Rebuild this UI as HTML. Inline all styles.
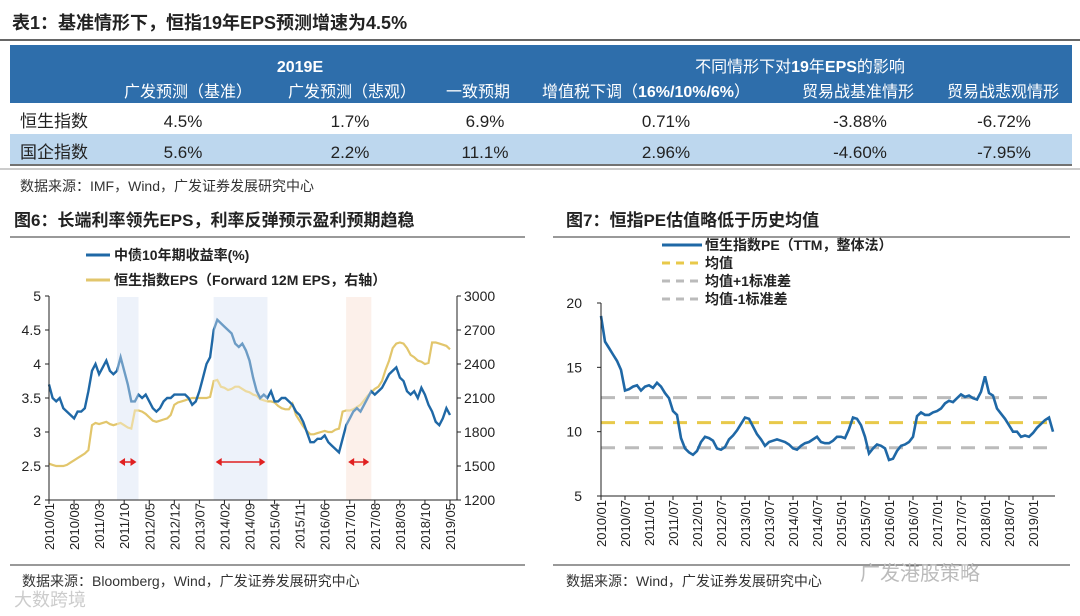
<!DOCTYPE html>
<html><head><meta charset="utf-8"><style>
body{margin:0;background:#fff;}
svg{display:block;font-family:"Liberation Sans","Noto Sans CJK SC",sans-serif;}
</style></head><body>
<svg id="s" width="1080" height="616" viewBox="0 0 1080 616" xmlns="http://www.w3.org/2000/svg">
<g>
<text x="12" y="29" font-size="18" font-weight="bold" fill="#222">表1：基准情形下，恒指19年EPS预测增速为4.5%</text>
<line x1="0" y1="40" x2="1080" y2="40" stroke="#333" stroke-width="1.5"/>
<rect x="10" y="45" width="1062" height="58" fill="#2e6eab"/>
<rect x="10" y="134" width="1062" height="30" fill="#bdd7ee"/>
<line x1="10" y1="165" x2="1072" y2="165" stroke="#444" stroke-width="1.5"/>
<line x1="0" y1="169" x2="1080" y2="169" stroke="#999" stroke-width="1"/>
<g fill="#fff" font-size="16" text-anchor="middle">
<text x="300" y="72" font-weight="bold">2019E</text>
<text x="800" y="72">不同情形下对<tspan font-weight="bold">19</tspan>年<tspan font-weight="bold">EPS</tspan>的影响</text>
<text x="188" y="97">广发预测（基准）</text>
<text x="352" y="97">广发预测（悲观）</text>
<text x="478" y="97">一致预期</text>
<text x="646" y="97">增值税下调（<tspan font-weight="bold">16%/10%/6%</tspan>）</text>
<text x="858" y="97">贸易战基准情形</text>
<text x="1003" y="97">贸易战悲观情形</text>
</g>
<g fill="#222" font-size="17" text-anchor="middle">
<text x="20" y="127" text-anchor="start">恒生指数</text>
<text x="183" y="127">4.5%</text><text x="350" y="127">1.7%</text><text x="485" y="127">6.9%</text>
<text x="666" y="127">0.71%</text><text x="860" y="127">-3.88%</text><text x="1004" y="127">-6.72%</text>
<text x="20" y="158" text-anchor="start">国企指数</text>
<text x="183" y="158">5.6%</text><text x="350" y="158">2.2%</text><text x="485" y="158">11.1%</text>
<text x="666" y="158">2.96%</text><text x="860" y="158">-4.60%</text><text x="1004" y="158">-7.95%</text>
</g>
<text x="20" y="191" font-size="14" fill="#333">数据来源：IMF，Wind，广发证券发展研究中心</text>
</g>
<text x="14" y="226" font-size="17" font-weight="bold" fill="#222">图6：长端利率领先EPS，利率反弹预示盈利预期趋稳</text>
<text x="566" y="226" font-size="17" font-weight="bold" fill="#222">图7：恒指PE估值略低于历史均值</text>
<line x1="10" y1="237" x2="525" y2="237" stroke="#333"/>
<line x1="553" y1="237" x2="1070" y2="237" stroke="#333"/>
<line x1="10" y1="565" x2="525" y2="565" stroke="#333"/>
<line x1="553" y1="565" x2="1070" y2="565" stroke="#333"/>
<text x="22" y="586" font-size="14" fill="#333">数据来源：Bloomberg，Wind，广发证券发展研究中心</text>
<text x="566" y="586" font-size="14" fill="#333">数据来源：Wind，广发证券发展研究中心</text>
<text x="860" y="580" font-size="20" fill="#bbb">广发港股策略</text>
<text x="14" y="606" font-size="18" fill="#ccc">大数跨境</text>
<g id="c1"></g>
<g id="c2"></g>
</svg>
<script>
const rateVals=[3.7,3.5,3.45,3.5,3.35,3.3,3.25,3.2,3.3,3.3,3.35,3.6,
3.9,4.0,3.85,3.95,4.05,3.9,3.85,3.9,4.1,3.9,3.7,3.45,
3.45,3.55,3.5,3.55,3.45,3.35,3.3,3.35,3.45,3.5,3.5,3.55,
3.55,3.55,3.55,3.5,3.4,3.45,3.6,3.8,4.0,4.1,4.5,4.65,
4.6,4.55,4.5,4.45,4.3,4.25,4.3,4.2,4.05,3.8,3.6,3.5,
3.55,3.5,3.6,3.45,3.45,3.5,3.5,3.45,3.4,3.3,3.25,3.15,
3.0,2.85,2.85,2.9,2.9,2.95,2.85,2.8,2.75,2.7,2.9,3.1,
3.2,3.3,3.35,3.3,3.4,3.5,3.6,3.55,3.6,3.65,3.75,3.85,
3.9,3.95,3.8,3.75,3.6,3.55,3.6,3.5,3.65,3.55,3.4,3.3,
3.15,3.1,3.2,3.35,3.25];
const epsVals=[1520,1510,1500,1500,1500,1510,1530,1550,1570,1590,1610,1640,
1860,1880,1870,1880,1890,1870,1860,1870,1880,1860,1840,1830,
1990,1990,1980,1960,1930,1900,1890,1900,1910,1920,1950,2040,
2060,2070,2080,2090,2100,2100,2100,2100,2100,2110,2250,2260,
2200,2190,2170,2180,2200,2200,2180,2160,2150,2130,2120,2090,
2080,2070,2070,2060,2030,2010,2000,2000,2050,1950,1900,1850,
1810,1780,1780,1790,1800,1810,1800,1800,1820,1830,1980,1990,
1990,2000,2020,2040,2080,2120,2150,2180,2200,2250,2350,2430,
2540,2580,2590,2580,2540,2480,2460,2430,2420,2400,2410,2590,
2590,2580,2570,2560,2530];
const leftTicks=[2,2.5,3,3.5,4,4.5,5];
const rightTicks=[1200,1500,1800,2100,2400,2700,3000];
const c1Labels=["2010/01","2010/08","2011/03","2011/10","2012/05","2012/12","2013/07","2014/02","2014/09","2015/04","2015/11","2016/06","2017/01","2017/08","2018/03","2018/10","2019/05"];
const bandsStart=[19,46,83];
const bandsEnd=[25,61,90];
const peVals=[19,17,16.5,16,15.5,14.8,13.2,13.3,13.5,13.6,13.2,13.5,
13.6,13.4,13.8,13.5,13.0,12.6,11.6,11.3,9.5,8.7,8.4,8.2,
8.5,9.2,9.6,9.5,9.3,8.7,8.6,8.8,9.4,9.7,10.1,10.6,
11.1,11.0,10.4,9.8,9.4,8.9,9.2,9.3,9.4,9.3,9.2,9.0,
8.7,8.6,8.9,9.1,9.2,9.4,9.6,9.2,9.1,9.1,9.3,9.6,
9.6,9.5,10.2,11.1,11.0,10.5,9.6,8.3,8.7,9.0,8.9,8.7,
7.8,7.9,8.5,8.9,9.0,9.2,9.6,11.2,11.5,11.3,11.3,11.5,
11.6,11.8,12.2,12.4,12.3,12.6,12.9,12.7,12.8,12.6,12.5,13.1,
14.3,13.0,12.8,11.8,11.4,11.0,10.5,10.0,10.0,9.6,9.7,9.6,
9.9,10.3,10.6,10.9,11.1,10.0];
const peMean=[10.7];
const peStd=[1.95];
const peTicks=[5,10,15,20];
const c2Labels=["2010/01","2010/07","2011/01","2011/07","2012/01","2012/07","2013/01","2013/07","2014/01","2014/07","2015/01","2015/07","2016/01","2016/07","2017/01","2017/07","2018/01","2018/07","2019/01"];

const NS="http://www.w3.org/2000/svg";
function mk(p,t,a){const e=document.createElementNS(NS,t);for(const k in a)e.setAttribute(k,a[k]);p.appendChild(e);return e;}
function lbl(s){const [y,m]=s.split("/").map(Number);return (y-2010)*12+(m-1);}

// chart 6
const c1=document.getElementById("c1");
const X1=m=>49+m*(401/112), YL=v=>500-(v-2)*(204/3), YR=v=>500-(v-1200)*(204/1800);
bandsStart.forEach((s,i)=>{const b=mk(c1,"rect",{x:X1(s),y:297,width:X1(bandsEnd[i])-X1(s),height:203,fill:i==2?"#fbe9df":"#e4ecf7"});

});
let d="";epsVals.forEach((v,i)=>d+=(i?"L":"M")+X1(i).toFixed(1)+","+YR(v).toFixed(1));
const ep=mk(c1,"path",{d,fill:"none",stroke:"#e2c66c","stroke-width":2.2});


d="";rateVals.forEach((v,i)=>d+=(i?"L":"M")+X1(i).toFixed(1)+","+YL(v).toFixed(1));
const rp=mk(c1,"path",{d,fill:"none",stroke:"#1f68a6","stroke-width":2.4});


bandsStart.forEach((s,i)=>{const b=mk(c1,"rect",{x:X1(s),y:297,width:X1(bandsEnd[i])-X1(s),height:203,fill:"#fff",opacity:0.35});


const y=462,x1=X1(s)+2,x2=X1(bandsEnd[i])-2;
mk(c1,"line",{x1:x1+5,y1:y,x2:x2-5,y2:y,stroke:"#e02020","stroke-width":1.5});
mk(c1,"path",{d:`M${x1},${y}l6,-4v8zM${x2},${y}l-6,-4v8z`,fill:"#e02020"});});
mk(c1,"path",{d:"M49,296V500H457V296",fill:"none",stroke:"#222","stroke-width":1});
leftTicks.forEach(v=>{mk(c1,"line",{x1:45,x2:49,y1:YL(v),y2:YL(v),stroke:"#222"});
const t=mk(c1,"text",{x:41,y:YL(v)+5,"font-size":14,"text-anchor":"end",fill:"#222"});t.textContent=v;

});
rightTicks.forEach(v=>{mk(c1,"line",{x1:457,x2:461,y1:YR(v),y2:YR(v),stroke:"#222"});
const t=mk(c1,"text",{x:464,y:YR(v)+5,"font-size":14,fill:"#222"});t.textContent=v;

});
c1Labels.forEach(s=>{const x=X1(lbl(s));mk(c1,"line",{x1:x,x2:x,y1:500,y2:504,stroke:"#222"});
const t=mk(c1,"text",{transform:`translate(${x+5},503) rotate(-90)`,"font-size":13,"text-anchor":"end",fill:"#222"});t.textContent=s;

});
mk(c1,"line",{x1:86,x2:110,y1:255,y2:255,stroke:"#1f68a6","stroke-width":3});
let t=mk(c1,"text",{x:114,y:260,"font-size":14,"font-weight":"bold",fill:"#222"});t.textContent="中债10年期收益率(%)";


mk(c1,"line",{x1:86,x2:110,y1:280,y2:280,stroke:"#e2c66c","stroke-width":3});
t=mk(c1,"text",{x:114,y:285,"font-size":14,"font-weight":"bold",fill:"#222"});t.textContent="恒生指数EPS（Forward 12M EPS，右轴）";



// chart 7
const c2=document.getElementById("c2");
const X2=m=>601+m*4.0, Y2=v=>496-(v-5)*(193/15);
const lines=[[peMean[0]+peStd[0],"#bbb"],[peMean[0],"#e8c94a"],[peMean[0]-peStd[0],"#bbb"]];
lines.forEach(([v,c])=>{const l=mk(c2,"line",{x1:601,x2:1055,y1:Y2(v),y2:Y2(v),stroke:c,"stroke-width":3,"stroke-dasharray":"14,10"});

});
d="";peVals.forEach((v,i)=>d+=(i?"L":"M")+X2(i).toFixed(1)+","+Y2(v).toFixed(1));
const pp=mk(c2,"path",{d,fill:"none",stroke:"#1f68a6","stroke-width":2.6});


mk(c2,"path",{d:"M601,303V496H1055",fill:"none",stroke:"#222"});
peTicks.forEach(v=>{mk(c2,"line",{x1:597,x2:601,y1:Y2(v),y2:Y2(v),stroke:"#222"});
const t=mk(c2,"text",{x:582,y:Y2(v)+5,"font-size":14,"text-anchor":"end",fill:"#222"});t.textContent=v;

});
c2Labels.forEach(s=>{const x=X2(lbl(s));mk(c2,"line",{x1:x,x2:x,y1:496,y2:500,stroke:"#222"});
const t=mk(c2,"text",{transform:`translate(${x+5},500) rotate(-90)`,"font-size":13,"text-anchor":"end",fill:"#222"});t.textContent=s;

});
const leg=[["恒生指数PE（TTM，整体法）","#1f68a6",null,250],["均值","#e8c94a","8,6",268],["均值+1标准差","#bbb","8,6",286],["均值-1标准差","#bbb","8,6",304]];
leg.forEach(([s,c,da,y])=>{const a={x1:662,x2:702,y1:y-5,y2:y-5,stroke:c,"stroke-width":3};if(da)a["stroke-dasharray"]=da;mk(c2,"line",a);
const t=mk(c2,"text",{x:705,y:y,"font-size":14,"font-weight":"bold",fill:"#222"});t.textContent=s;

});
</script>
</body></html>
